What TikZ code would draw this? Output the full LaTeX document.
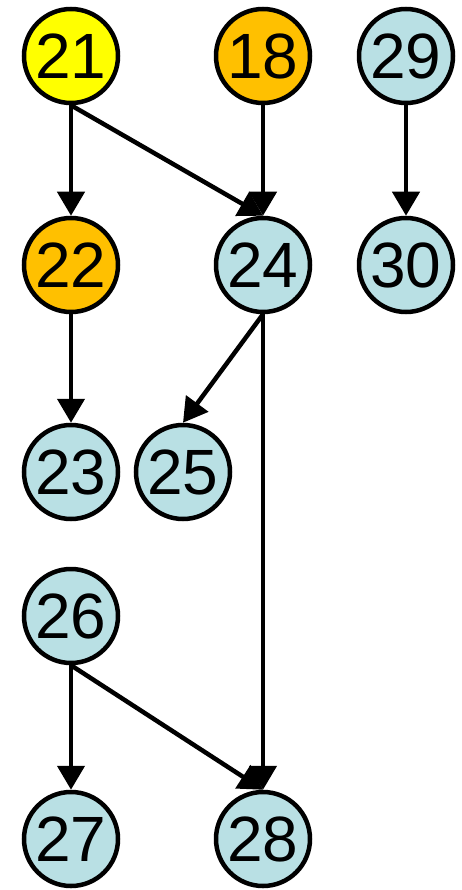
\documentclass[tikz,border=0pt]{standalone}
\usepackage{fontspec}
\setmainfont{Liberation Sans}
\usetikzlibrary{arrows.meta}
\definecolor{cyel}{RGB}{255,255,0}
\definecolor{corg}{RGB}{255,192,0}
\definecolor{cblu}{RGB}{185,224,228}
\tikzset{
  nd/.style={circle,draw=black,line width=4.5pt,minimum size=94pt,inner sep=0pt,font=\fontsize{64pt}{64pt}\selectfont},
  ed/.style={line width=4.5pt,-{Triangle[length=24pt,width=27pt]}}
}
\begin{document}
\begin{tikzpicture}[x=1pt,y=-1pt]
\useasboundingbox (0,0) rectangle (461,890);
\node[nd,fill=cyel] (n21) at (71,56) {21};
\node[nd,fill=corg] (n18) at (263,56) {18};
\node[nd,fill=cblu] (n29) at (406,56) {29};
\node[nd,fill=corg] (n22) at (71,265) {22};
\node[nd,fill=cblu] (n24) at (263,265) {24};
\node[nd,fill=cblu] (n30) at (406,265) {30};
\node[nd,fill=cblu] (n23) at (71,472) {23};
\node[nd,fill=cblu] (n25) at (183,472) {25};
\node[nd,fill=cblu] (n26) at (71,616) {26};
\node[nd,fill=cblu] (n27) at (71,839) {27};
\node[nd,fill=cblu] (n28) at (263,839) {28};
\draw[ed] (n21.south) -- (n22.north);
\draw[ed] (n21.south) -- (n24.north);
\draw[ed] (n18.south) -- (n24.north);
\draw[ed] (n29.south) -- (n30.north);
\draw[ed] (n22.south) -- (n23.north);
\draw[ed] (n24.south) -- (n25.north);
\draw[ed] (n24.south) -- (n28.north);
\draw[ed] (n26.south) -- (n27.north);
\draw[ed] (n26.south) -- (n28.north);
\end{tikzpicture}
\end{document}
